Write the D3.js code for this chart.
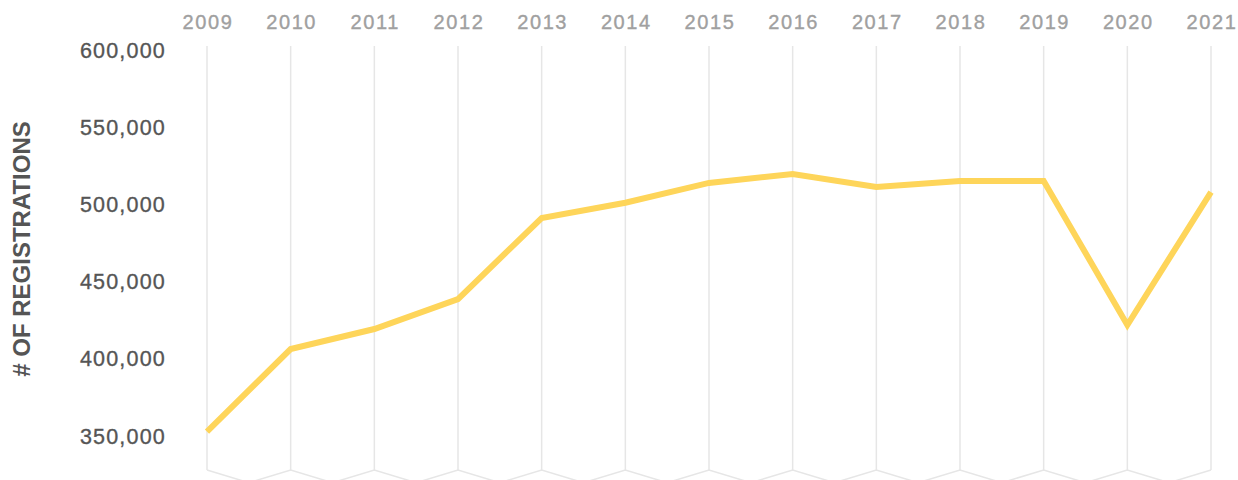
<!DOCTYPE html>
<html>
<head>
<meta charset="utf-8">
<script src="https://cdn.jsdelivr.net/npm/d3@7"></script>
<style>
  html, body { margin:0; padding:0; background:#fff; }
  svg { display:block; }
  .ylab { font-family:"Liberation Sans", Arial, sans-serif; font-size:21.5px; fill:#555; stroke:#555; stroke-width:0.35px; letter-spacing:1.2px; }
  .xlab { font-family:"Liberation Sans", Arial, sans-serif; font-size:20px; fill:#a0a0a0; stroke:#a0a0a0; stroke-width:0.35px; letter-spacing:1.6px; }
  .title { font-family:"Liberation Sans", Arial, sans-serif; font-size:24px; font-weight:bold; fill:#555; }
</style>
</head>
<body>
<svg id="chart" width="1238" height="480"></svg>
<script>
"use strict";

const years = [2009, 2010, 2011, 2012, 2013, 2014, 2015, 2016, 2017, 2018, 2019, 2020, 2021];
const registrations = [352800, 406300, 419300, 438700, 491200, 501100, 513900, 519700, 511300, 515200, 515200, 421900, 508000];
const yTicks = [350000, 400000, 450000, 500000, 550000, 600000];

const svg = d3.select("#chart");

let x = d3.scalePoint().domain(years).range([207, 1211]);
let y = d3.scaleLinear().domain([350000, 600000]).range([436, 50]);

const gridTop = 46, gridBottom = 470;

// vertical grid
svg.append("g").selectAll("line")
  .data(years)
  .join("line")
    .attr("x1", d => x(d)).attr("x2", d => x(d))
    .attr("y1", gridTop).attr("y2", gridBottom)
    .attr("stroke", "#e6e6e6")
    .attr("stroke-width", 1.5);

// zigzag under the grid
let zz = [];
years.forEach((d, i) => {
  zz.push([x(d), gridBottom]);
  if (i < years.length - 1) zz.push([(x(d) + x(years[i + 1])) / 2, gridBottom + 12.7]);
});
svg.append("path")
  .attr("d", d3.line()(zz))
  .attr("fill", "none")
  .attr("stroke", "#e6e6e6")
  .attr("stroke-width", 1.5);

// year labels on top
svg.append("g").selectAll("text")
  .data(years)
  .join("text")
    .attr("class", "xlab")
    .attr("x", d => x(d) + 1)
    .attr("y", 29)
    .attr("text-anchor", "middle")
    .text(d => d);

// value labels
svg.append("g").selectAll("text")
  .data(yTicks)
  .join("text")
    .attr("class", "ylab")
    .attr("x", 166)
    .attr("y", d => y(d) + 7.5)
    .attr("text-anchor", "end")
    .text(d => d3.format(",")(d));

// axis title
svg.append("text")
  .attr("class", "title")
  .attr("transform", "translate(29.5,249) rotate(-90)")
  .attr("text-anchor", "middle")
  .text("# OF REGISTRATIONS");

// the line
let lineFcn = d3.line()
  .x((d, i) => x(years[i]))
  .y(d => y(d));

svg.append("path")
  .attr("d", lineFcn(registrations))
  .attr("fill", "none")
  .attr("stroke", "#fed55a")
  .attr("stroke-width", 6)
  .attr("stroke-linejoin", "miter");
</script>
</body>
</html>
